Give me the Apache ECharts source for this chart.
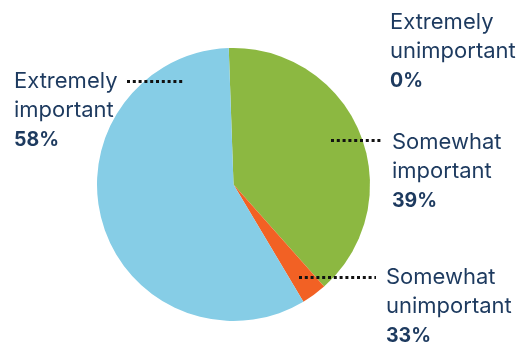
<!DOCTYPE html>
<html>
<head>
<meta charset="utf-8">
<script src="https://cdn.jsdelivr.net/npm/echarts@6/dist/echarts.min.js"></script>
<style>
  html, body { margin: 0; padding: 0; background: #fff; }
  #chart { width: 520px; height: 344px; }
</style>
</head>
<body>
<div id="chart"></div>
<script>
// categories, clockwise from the top
var names = ['Somewhat\nimportant', 'Somewhat\nunimportant', 'Extremely\nimportant', 'Extremely\nunimportant'];
// slice sizes
var values = [39, 3, 58, 0];
// printed percent labels (as printed in the original)
var pctLabels = ['39%', '33%', '58%', '0%'];
var colors = ['#8cb841', '#f26124', '#86cde6', '#cccccc'];

var myChart = echarts.init(document.getElementById('chart'));

// where each label goes: [x, y] and its dotted leader [x1, x2, y]
var labelSpots = [[392, 128], [386, 263], [14, 67], [390, 8]];
var leaders = [[331, 383, 140.5], [299, 376, 277.5], [127, 183, 81.5]];

var pieData = [];
for (var i = 0; i < names.length; i++) {
	pieData.push({ name: names[i], value: values[i], itemStyle: { color: colors[i] } });
}

var lines = [];
for (var j = 0; j < leaders.length; j++) {
	lines.push({
		type: 'line',
		shape: { x1: leaders[j][0], y1: leaders[j][2], x2: leaders[j][1], y2: leaders[j][2] },
		style: { stroke: '#111', lineWidth: 3, lineDash: [3, 2.8] },
		z: 10
	});
}

var option = {
	animation: false,
	graphic: lines,
	series: [
		{
			type: 'pie',
			center: [233.5, 184.5],
			radius: 136.5,
			startAngle: 92,
			clockwise: true,
			avoidLabelOverlap: false,
			stillShowZeroSum: true,
			itemStyle: { borderWidth: 0 },
			emphasis: { disabled: true },
			label: {
				show: true,
				position: 'outside',
				formatter: function (p) {
					return '{n|' + p.name.replace('\n', '}\n{n|') + '}\n{p|' + pctLabels[p.dataIndex] + '}';
				},
				rich: {
					n: { fontFamily: 'Inter', fontSize: 22, lineHeight: 29, color: '#1d3a5f' },
					p: { fontFamily: 'Inter', fontSize: 19.5, lineHeight: 30, fontWeight: 'bold', color: '#1d3a5f' }
				}
			},
			labelLine: { show: false },
			labelLayout: function (p) {
				var s = labelSpots[p.dataIndex];
				return { x: s[0], y: s[1], align: 'left', verticalAlign: 'top' };
			},
			data: pieData
		}
	]
};

myChart.setOption(option);
</script>
</body>
</html>
